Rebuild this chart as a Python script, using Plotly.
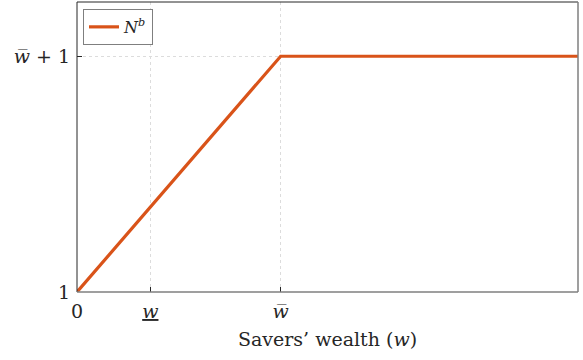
import plotly.graph_objects as go

# data
w_bar = 1.0
w_under = 0.36
x_max = 2.46
y_max = 2.23
x_vals = [0.0, w_bar, x_max]
y_vals = [1.0, w_bar + 1.0, w_bar + 1.0]
series_name = "<i>N</i><sup><i>b</i></sup>"
x_tick_vals = [0.0, w_under, w_bar]
x_tick_text = ["0", "<u><i>w</i></u>", "<i>w\u0305</i>"]
y_tick_vals = [1.0, w_bar + 1.0]
y_tick_text = ["1", "<i>w\u0305</i> + 1"]
x_label = "Savers\u2019 wealth (<i>w</i>)"

FONT = "DejaVu Serif"
ORANGE = "#D95319"
TXT = "#262626"

fig = go.Figure()
fig.add_trace(go.Scatter(x=x_vals, y=y_vals, mode="lines", name=series_name,
                         line=dict(color=ORANGE, width=3.2), showlegend=True))

fig.update_layout(
    width=583, height=360,
    margin=dict(l=77, r=5, t=2, b=68),
    paper_bgcolor="white", plot_bgcolor="white",
    font=dict(family=FONT, size=19, color=TXT),
    showlegend=True,
    legend=dict(x=0.012, y=0.976, xanchor="left", yanchor="top",
                bgcolor="white", bordercolor="#7f7f7f", borderwidth=1,
                font=dict(family=FONT, size=16, color=TXT),
                itemwidth=30, tracegroupgap=0),
    xaxis=dict(range=[0, x_max], tickvals=x_tick_vals, ticktext=x_tick_text,
               showgrid=True, gridcolor="#dcdcdc", griddash="dot", gridwidth=1,
               zeroline=False, showline=False, ticks="inside", ticklen=5,
               tickcolor=TXT, automargin=False, ticklabelstandoff=6,
               tickfont=dict(family=FONT, size=19, color=TXT),
               title=dict(text=x_label, standoff=11,
                          font=dict(family=FONT, size=19, color=TXT))),
    yaxis=dict(range=[1, y_max], tickvals=y_tick_vals, ticktext=y_tick_text,
               showgrid=True, gridcolor="#dcdcdc", griddash="dot", gridwidth=1,
               zeroline=False, showline=False, ticks="inside", ticklen=5,
               tickcolor=TXT, automargin=False, ticklabelstandoff=6,
               tickfont=dict(family=FONT, size=19, color=TXT)),
    shapes=[
        dict(type="line", xref="paper", yref="paper", x0=0, x1=1, y0=1, y1=1,
             line=dict(color=TXT, width=1)),
        dict(type="line", xref="paper", yref="paper", x0=0, x1=0, y0=0, y1=1,
             line=dict(color=TXT, width=1)),
        dict(type="line", xref="paper", yref="paper", x0=0, x1=1, y0=0, y1=0,
             line=dict(color="#7f7f7f", width=1.5)),
        dict(type="line", xref="paper", yref="paper", x0=1, x1=1, y0=0, y1=1,
             line=dict(color="#7f7f7f", width=1.5)),
    ],
)

fig.write_html("out.html", config={"displayModeBar": False},
               post_script="document.body.style.margin='0';document.body.style.overflow='hidden';")
